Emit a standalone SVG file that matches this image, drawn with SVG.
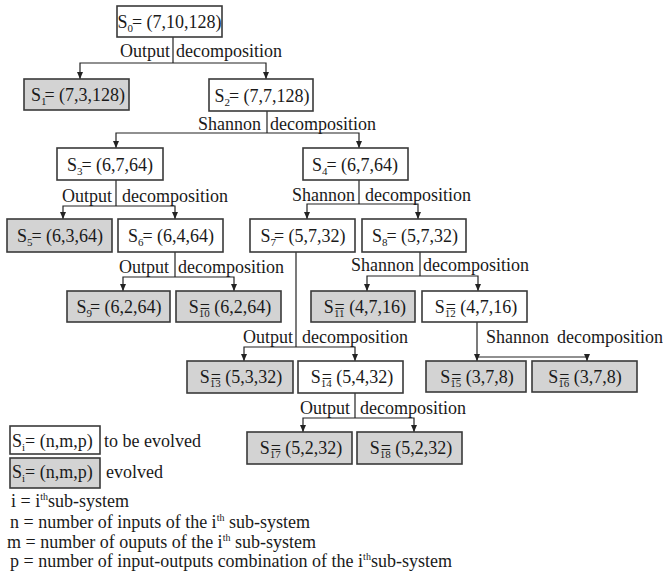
<svg xmlns="http://www.w3.org/2000/svg" width="663" height="573" viewBox="0 0 663 573">
  <style>
    text { font-family: "Liberation Serif", "Times New Roman", serif; font-size: 18px; fill: #1a1a1a; }
    .c { text-anchor: middle; }
    .e { text-anchor: end; }
    .sub { font-size: 11px; }
    .sup { font-size: 10px; }
    .box { fill: #ffffff; stroke: #3a3a3a; stroke-width: 1.6; }
    .done { fill: #d3d3d3; }
    .wire { fill: none; stroke: #222; stroke-width: 1.2; }
  </style>
  <defs>
    <marker id="arrow" markerUnits="userSpaceOnUse" markerWidth="8" markerHeight="8" refX="7" refY="3" orient="auto">
      <path d="M0,0 L7,3 L0,6 z" fill="#222"/>
    </marker>
  </defs>

  <rect width="663" height="573" fill="#ffffff"/>

  <!-- connectors -->
  <g id="connectors" class="wire">
    <!-- S0 -> S1, S2 -->
    <path d="M173,37 V63"/>
    <path d="M173,63 H80 V79" marker-end="url(#arrow)"/>
    <path d="M173,63 H266 V79" marker-end="url(#arrow)"/>
    <!-- S2 -> S3, S4 -->
    <path d="M267,111 V133"/>
    <path d="M267,133 H116 V148" marker-end="url(#arrow)"/>
    <path d="M267,133 H359 V148" marker-end="url(#arrow)"/>
    <!-- S3 -> S5, S6 -->
    <path d="M116,180 V206"/>
    <path d="M116,206 H63 V219" marker-end="url(#arrow)"/>
    <path d="M116,206 H175 V219" marker-end="url(#arrow)"/>
    <!-- S4 -> S7, S8 -->
    <path d="M359,180 V204"/>
    <path d="M359,204 H307 V219" marker-end="url(#arrow)"/>
    <path d="M359,204 H418 V219" marker-end="url(#arrow)"/>
    <!-- S6 -> S9, S10 -->
    <path d="M175,252 V277"/>
    <path d="M175,277 H123 V291" marker-end="url(#arrow)"/>
    <path d="M175,277 H234 V291" marker-end="url(#arrow)"/>
    <!-- S8 -> S11, S12 -->
    <path d="M420,252 V276"/>
    <path d="M420,276 H367 V291" marker-end="url(#arrow)"/>
    <path d="M420,276 H478 V291" marker-end="url(#arrow)"/>
    <!-- S7 -> S13, S14 -->
    <path d="M296,252 V347"/>
    <path d="M296,347 H244 V361" marker-end="url(#arrow)"/>
    <path d="M296,347 H355 V361" marker-end="url(#arrow)"/>
    <!-- S12 -> S15, S16 -->
    <path d="M477,322 V361" marker-end="url(#arrow)"/>
    <path d="M477,357 H587 V361" marker-end="url(#arrow)"/>
    <!-- S14 -> S17, S18 -->
    <path d="M355,393 V418"/>
    <path d="M355,418 H303 V432" marker-end="url(#arrow)"/>
    <path d="M355,418 H414 V432" marker-end="url(#arrow)"/>
  </g>

  <!-- decomposition labels -->
  <g id="labels">
    <text class="e" x="170" y="57">Output</text><text x="176" y="57">decomposition</text>
    <text class="e" x="261" y="130">Shannon</text><text x="270" y="130">decomposition</text>
    <text class="e" x="112" y="202">Output</text><text x="122" y="202">decomposition</text>
    <text class="e" x="355" y="201">Shannon</text><text x="365" y="201">decomposition</text>
    <text class="e" x="169" y="273">Output</text><text x="178" y="273">decomposition</text>
    <text class="e" x="414" y="271">Shannon</text><text x="423" y="271">decomposition</text>
    <text class="e" x="293" y="343">Output</text><text x="302" y="343">decomposition</text>
    <text x="486" y="343">Shannon</text><text x="557" y="343">decomposition</text>
    <text class="e" x="350" y="414">Output</text><text x="360" y="414">decomposition</text>
  </g>

  <!-- nodes -->
  <g id="S0"><rect class="box" x="117" y="6" width="105" height="31"/>
    <text class="c" x="169.5" y="28">S<tspan class="sub" dy="4">0</tspan><tspan dy="-4" dx="-1">= (7,10,128)</tspan></text></g>
  <g id="S1"><rect class="box done" x="24" y="79" width="105" height="31"/>
    <text class="c" x="78" y="101">S<tspan class="sub" dy="4">1</tspan><tspan dy="-4" dx="-2">= (7,3,128)</tspan></text></g>
  <g id="S2"><rect class="box" x="209" y="79" width="104" height="32"/>
    <text class="c" x="262" y="102">S<tspan class="sub" dy="4">2</tspan><tspan dy="-4" dx="-1">= (7,7,128)</tspan></text></g>
  <g id="S3"><rect class="box" x="57" y="148" width="106" height="32"/>
    <text class="c" x="110" y="171">S<tspan class="sub" dy="4">3</tspan><tspan dy="-4" dx="-1">= (6,7,64)</tspan></text></g>
  <g id="S4"><rect class="box" x="303" y="148" width="105" height="32"/>
    <text class="c" x="355" y="171">S<tspan class="sub" dy="4">4</tspan><tspan dy="-4" dx="-1">= (6,7,64)</tspan></text></g>
  <g id="S5"><rect class="box done" x="7" y="219" width="105" height="33"/>
    <text class="c" x="60" y="242">S<tspan class="sub" dy="4">5</tspan><tspan dy="-4" dx="-1">= (6,3,64)</tspan></text></g>
  <g id="S6"><rect class="box" x="118" y="219" width="105" height="33"/>
    <text class="c" x="171" y="242">S<tspan class="sub" dy="4">6</tspan><tspan dy="-4" dx="-1">= (6,4,64)</tspan></text></g>
  <g id="S7"><rect class="box" x="250" y="219" width="105" height="33"/>
    <text class="c" x="303" y="242">S<tspan class="sub" dy="4">7</tspan><tspan dy="-4" dx="-2">= (5,7,32)</tspan></text></g>
  <g id="S8"><rect class="box" x="362" y="219" width="104" height="33"/>
    <text class="c" x="415" y="242">S<tspan class="sub" dy="4">8</tspan><tspan dy="-4" dx="-1">= (5,7,32)</tspan></text></g>
  <g id="S9"><rect class="box done" x="67" y="291" width="103" height="31"/>
    <text class="c" x="119" y="313">S<tspan class="sub" dy="4">9</tspan><tspan dy="-4" dx="-2">= (6,2,64)</tspan></text></g>
  <g id="S10"><rect class="box done" x="176" y="291" width="105" height="31"/>
    <text class="c" x="230" y="313">S<tspan class="sub" dy="4">10</tspan><tspan dy="-4" dx="-10">=</tspan><tspan> (6,2,64)</tspan></text></g>
  <g id="S11"><rect class="box done" x="311" y="291" width="104" height="31"/>
    <text class="c" x="365" y="313">S<tspan class="sub" dy="4">11</tspan><tspan dy="-4" dx="-10">=</tspan><tspan> (4,7,16)</tspan></text></g>
  <g id="S12"><rect class="box" x="422" y="291" width="105" height="31"/>
    <text class="c" x="476" y="313">S<tspan class="sub" dy="4">12</tspan><tspan dy="-4" dx="-10">=</tspan><tspan> (4,7,16)</tspan></text></g>
  <g id="S13"><rect class="box done" x="187" y="361" width="106" height="32"/>
    <text class="c" x="241" y="383">S<tspan class="sub" dy="4">13</tspan><tspan dy="-4" dx="-10">=</tspan><tspan> (5,3,32)</tspan></text></g>
  <g id="S14"><rect class="box" x="298" y="361" width="105" height="32"/>
    <text class="c" x="352" y="383">S<tspan class="sub" dy="4">14</tspan><tspan dy="-4" dx="-10">=</tspan><tspan> (5,4,32)</tspan></text></g>
  <g id="S15"><rect class="box done" x="426" y="361" width="100" height="31"/>
    <text class="c" x="477" y="383">S<tspan class="sub" dy="4">15</tspan><tspan dy="-4" dx="-10">=</tspan><tspan> (3,7,8)</tspan></text></g>
  <g id="S16"><rect class="box done" x="532" y="361" width="105" height="31"/>
    <text class="c" x="585" y="383">S<tspan class="sub" dy="4">16</tspan><tspan dy="-4" dx="-10">=</tspan><tspan> (3,7,8)</tspan></text></g>
  <g id="S17"><rect class="box done" x="247" y="432" width="105" height="32"/>
    <text class="c" x="301" y="454">S<tspan class="sub" dy="4">17</tspan><tspan dy="-4" dx="-10">=</tspan><tspan> (5,2,32)</tspan></text></g>
  <g id="S18"><rect class="box done" x="357" y="432" width="105" height="32"/>
    <text class="c" x="411" y="454">S<tspan class="sub" dy="4">18</tspan><tspan dy="-4" dx="-10">=</tspan><tspan> (5,2,32)</tspan></text></g>

  <!-- legend -->
  <g id="legend">
    <rect class="box" x="10" y="426" width="90" height="28"/>
    <text x="12" y="447">S<tspan class="sub" dy="4">i</tspan><tspan dy="-4">= (n,m,p)</tspan></text>
    <text x="104" y="447">to be evolved</text>
    <rect class="box done" x="10" y="458" width="90" height="30"/>
    <text x="12" y="478">S<tspan class="sub" dy="4">i</tspan><tspan dy="-4">= (n,m,p)</tspan></text>
    <text x="106" y="478">evolved</text>
    <text x="11" y="507">i = i<tspan class="sup" dy="-7">th</tspan><tspan dy="7">sub-system</tspan></text>
    <text x="10" y="528">n = number of inputs of the i<tspan class="sup" dy="-7">th</tspan><tspan dy="7"> sub-system</tspan></text>
    <text x="7" y="548">m = number of ouputs of the i<tspan class="sup" dy="-7">th</tspan><tspan dy="7"> sub-system</tspan></text>
    <text x="10" y="567">p = number of input-outputs combination of the i<tspan class="sup" dy="-7">th</tspan><tspan dy="7">sub-system</tspan></text>
  </g>
</svg>
